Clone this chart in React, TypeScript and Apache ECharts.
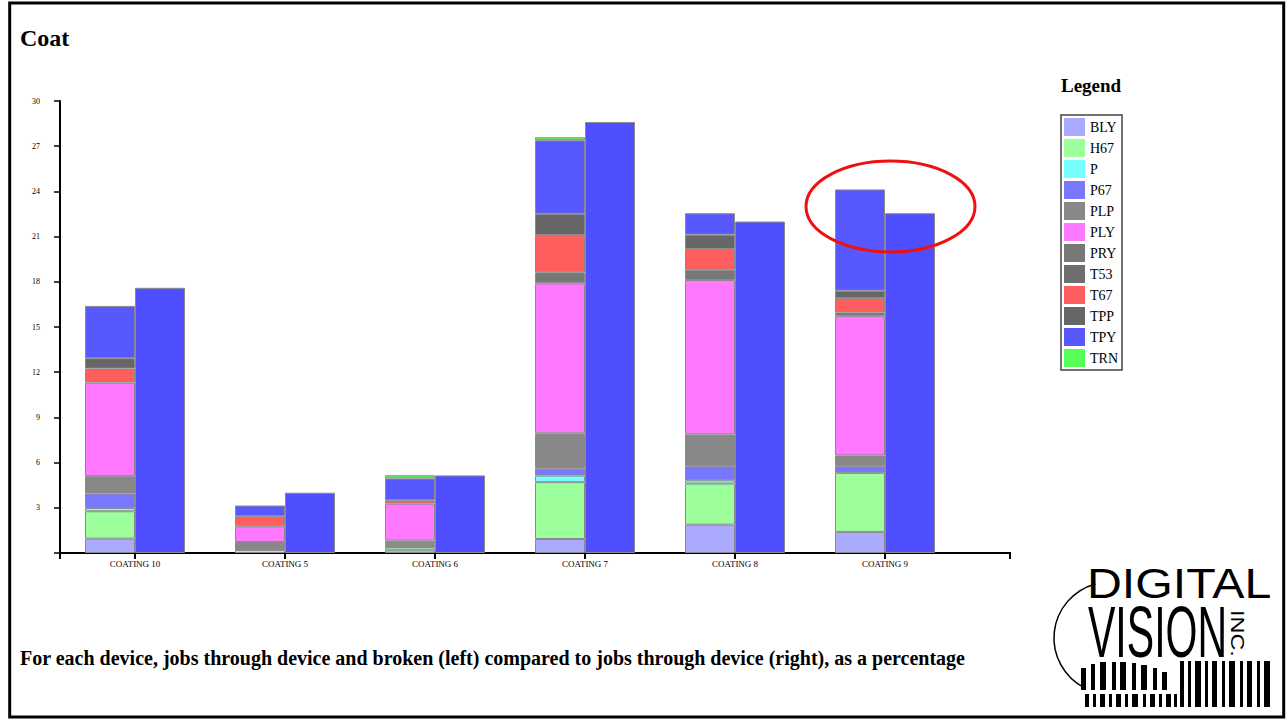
import React, { useEffect, useRef } from 'react';
import * as echarts from 'echarts';

const categories = ['COATING 10', 'COATING 5', 'COATING 6', 'COATING 7', 'COATING 8', 'COATING 9'];

const BLY = [0.95, 0, 0.22, 0.93, 1.88, 1.4];
const H67 = [1.82, 0.2, 0.18, 3.77, 2.73, 3.92];
const P = [0.22, 0, 0, 0.44, 0.22, 0];
const P67 = [0.96, 0, 0.2, 0.45, 0.93, 0.44];
const PLP = [1.15, 0.53, 0.22, 2.35, 2.11, 0.71];
const PLY = [6.21, 1.04, 2.46, 9.96, 10.25, 9.27];
const PRY = [0, 0, 0, 0.73, 0.68, 0.23];
const T53 = [0, 0, 0, 0, 0, 0];
const T67 = [0.93, 0.67, 0.22, 2.48, 1.38, 0.95];
const TPP = [0.69, 0, 0, 1.4, 0.95, 0.49];
const TPY = [3.47, 0.71, 1.44, 4.88, 1.42, 6.72];
const TRN = [0, 0, 0.22, 0.2, 0, 0];
const throughDevice = [17.6, 4.0, 5.15, 28.6, 22.0, 22.55];

const seriesNames = ['BLY', 'H67', 'P', 'P67', 'PLP', 'PLY', 'PRY', 'T53', 'T67', 'TPP', 'TPY', 'TRN'];
const seriesValues = [BLY, H67, P, P67, PLP, PLY, PRY, T53, T67, TPP, TPY, TRN];
const seriesColors = ['#aaaaff', '#9cff9c', '#77ffff', '#7878ff', '#888888', '#ff78ff', '#787878', '#6e6e6e', '#ff5e5e', '#666666', '#5858ff', '#55ff55'];

const yMin = 0;
const yMax = 30;
const yStep = 3;

const SERIF = '"Liberation Serif", "Times New Roman", serif';

function logoElements(): any[] {
  const els: any[] = [];
  els.push({
    type: 'text', x: 1087, y: 584, scaleX: 1.15, z: 20,
    style: { text: 'DIGITAL', font: 'normal 42px "Liberation Sans", Arial, sans-serif', fill: '#000', verticalAlign: 'middle' },
  });
  els.push({
    type: 'text', x: 1088, y: 632, scaleX: 0.57, z: 20,
    style: { text: 'VISION', font: 'normal 72px "Liberation Sans", Arial, sans-serif', fill: '#000', verticalAlign: 'middle' },
  });
  els.push({
    type: 'text', x: 1237, y: 610, rotation: -Math.PI / 2, scaleX: 1.3, z: 20,
    style: { text: 'INC.', font: 'normal 18px "Liberation Sans", Arial, sans-serif', fill: '#000', verticalAlign: 'middle' },
  });
  els.push({
    type: 'arc', z: 20,
    shape: { cx: 1110, cy: 638, r: 56, startAngle: (117 * Math.PI) / 180, endAngle: (255 * Math.PI) / 180, clockwise: true },
    style: { stroke: '#000', lineWidth: 1.5, fill: 'none' },
  });
  const right = [[1180, 4], [1188, 3], [1195, 6], [1205, 3], [1212, 5], [1222, 3], [1229, 6], [1240, 3], [1247, 5], [1257, 3], [1264, 6]];
  right.forEach(([x, w]) => els.push({ type: 'rect', z: 20, shape: { x, y: 661, width: w, height: 46 }, style: { fill: '#000' } }));
  const left = [[1081, 5, 668], [1091, 4, 664], [1100, 6, 662], [1112, 4, 662], [1120, 6, 662], [1132, 4, 663], [1141, 6, 665], [1153, 4, 668], [1162, 5, 672]];
  left.forEach(([x, w, y]) => els.push({ type: 'rect', z: 20, shape: { x, y, width: w, height: 690 - y }, style: { fill: '#000' } }));
  const bottom = [[1085, 4], [1093, 3], [1100, 5], [1109, 3], [1116, 5], [1125, 3], [1132, 6], [1143, 3], [1150, 5], [1159, 3], [1166, 5], [1174, 3]];
  bottom.forEach(([x, w]) => els.push({ type: 'rect', z: 20, shape: { x, y: 694, width: w, height: 13 }, style: { fill: '#000' } }));
  return els;
}

export default function App() {
  const ref = useRef<HTMLDivElement>(null);

  useEffect(() => {
    if (!ref.current) return;
    const chart = echarts.init(ref.current, undefined, { renderer: 'svg' });

    const barSeries: any[] = seriesNames.map((name, i) => ({
      name,
      type: 'bar',
      stack: 'broken',
      barWidth: 50,
      barGap: '0%',
      data: seriesValues[i].map((v) => (v === 0 ? null : v)),
      itemStyle: { color: seriesColors[i], borderColor: '#8a8a8a', borderWidth: 1 },
      emphasis: { disabled: true },
    }));
    barSeries.push({
      name: 'Through device',
      type: 'bar',
      stack: 'through',
      barWidth: 50,
      barGap: '0%',
      data: throughDevice,
      itemStyle: { color: '#4f4fff', borderColor: '#8a8a8a', borderWidth: 1 },
      emphasis: { disabled: true },
    });

    const option: any = {
      animation: false,
      backgroundColor: '#fff',
      grid: { left: 60, top: 101, width: 900, height: 452, containLabel: false },
      xAxis: {
        type: 'category',
        data: categories,
        axisLine: { show: true, lineStyle: { color: '#000', width: 2 } },
        axisTick: { show: true, alignWithLabel: true, length: 6, lineStyle: { color: '#000', width: 2 } },
        axisLabel: { interval: 0, fontFamily: SERIF, fontSize: 9, color: '#000', margin: 6 },
        splitLine: { show: false },
      },
      yAxis: {
        type: 'value',
        min: yMin,
        max: yMax,
        interval: yStep,
        axisLine: { show: true, lineStyle: { color: '#000', width: 2 } },
        axisTick: { show: true, length: 6, lineStyle: { color: '#000', width: 1.5 } },
        axisLabel: {
          fontFamily: SERIF, fontSize: 8, color: '#000', margin: 20,
          formatter: (v: number) => (v === 0 ? '' : String(v)),
        },
        splitLine: { show: false },
      },
      legend: {
        data: seriesNames,
        orient: 'vertical',
        left: 1061,
        top: 115,
        itemWidth: 21,
        itemHeight: 18,
        itemGap: 3,
        padding: [3, 4, 3, 3],
        borderColor: '#444',
        borderWidth: 1.5,
        icon: 'rect',
        selectedMode: false,
        itemStyle: { borderWidth: 0 },
        textStyle: { fontFamily: SERIF, fontSize: 14, color: '#000' },
      },
      series: barSeries,
      graphic: {
        elements: [
          { type: 'rect', z: 30, shape: { x: 9.7, y: 3, width: 1274, height: 714 }, style: { fill: 'none', stroke: '#000', lineWidth: 3 } },
          { type: 'text', x: 20, y: 37.5, z: 20, style: { text: 'Coat', font: `bold 24px ${SERIF}`, fill: '#000', verticalAlign: 'middle' } },
          { type: 'text', x: 1061, y: 85, z: 20, style: { text: 'Legend', font: `bold 19px ${SERIF}`, fill: '#000', verticalAlign: 'middle' } },
          {
            type: 'text', x: 20, y: 657.5, z: 20,
            style: {
              text: 'For each device, jobs through device and broken (left) compared to jobs through device (right), as a percentage',
              font: `bold 20px ${SERIF}`, fill: '#000', verticalAlign: 'middle',
            },
          },
          { type: 'line', z: 20, shape: { x1: 959, y1: 553, x2: 1011, y2: 553 }, style: { stroke: '#000', lineWidth: 2 } },
          { type: 'line', z: 20, shape: { x1: 1010, y1: 553, x2: 1010, y2: 559 }, style: { stroke: '#000', lineWidth: 2 } },
          { type: 'line', z: 20, shape: { x1: 60, y1: 553, x2: 60, y2: 559 }, style: { stroke: '#000', lineWidth: 2 } },
          {
            type: 'ellipse', z: 25,
            shape: { cx: 890.5, cy: 206.5, rx: 84.5, ry: 45.5 },
            style: { fill: 'none', stroke: '#ee1111', lineWidth: 3 },
          },
          ...logoElements(),
        ],
      },
    };

    chart.setOption(option);
    return () => chart.dispose();
  }, []);

  return (
    <div
      ref={ref}
      style={{ position: 'fixed', left: 0, top: 0, width: 1288, height: 721, background: '#fff' }}
    />
  );
}
